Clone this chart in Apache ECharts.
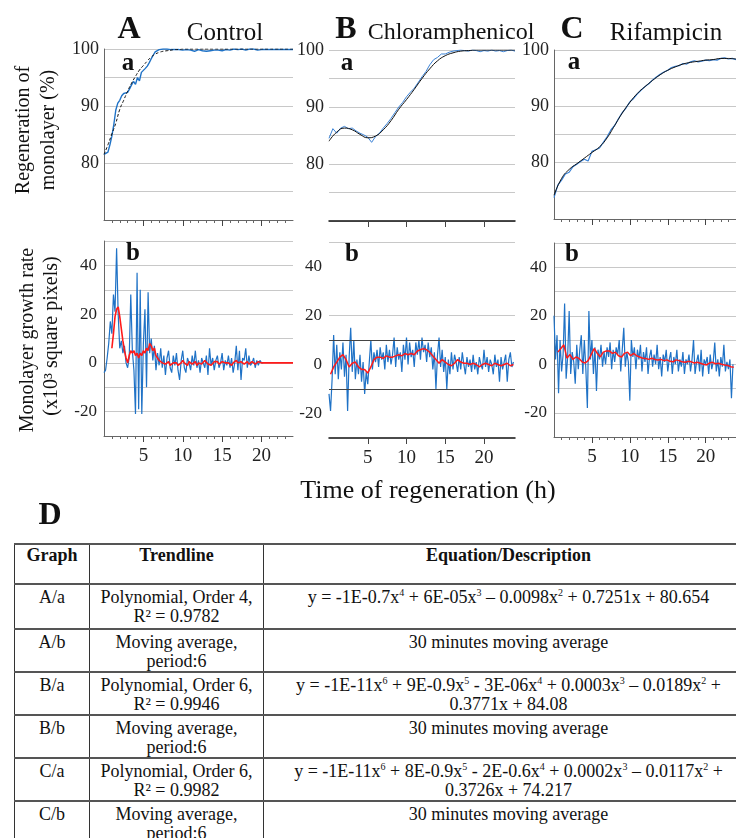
<!DOCTYPE html>
<html>
<head>
<meta charset="utf-8">
<script src="https://cdn.jsdelivr.net/npm/echarts@6/dist/echarts.min.js"></script>
<style>
  body { margin: 0; background: #fff; width: 736px; height: 838px; overflow: hidden; position: relative; font-family: 'Liberation Serif', serif; }
  #chart { position: absolute; left: 0; top: 0; width: 736px; height: 530px; }
  table { position: absolute; left: 14px; top: 543px; width: 740px; border-collapse: collapse; font-size: 18px; color: #111; table-layout: fixed; }
  th, td { border-left: 1px solid #333; border-right: 1px solid #333; border-top: 2px solid #555; border-bottom: 2px solid #555; text-align: center; vertical-align: top; padding: 3px 4px 0; line-height: 19px; }
  th { padding-top: 1px; font-weight: bold; }
  sup { font-size: 10px; line-height: 0; }
</style>
</head>
<body>
<div id="chart"></div>
<table>
  <colgroup><col style="width:75px"><col style="width:174px"><col></colgroup>
  <tr style="height:40px"><th>Graph</th><th>Trendline</th><th>Equation/Description</th></tr>
  <tr style="height:45px"><td>A/a</td><td>Polynomial, Order 4,<br>R² = 0.9782</td><td>y = -1E-0.7x<sup>4</sup> + 6E-05x<sup>3</sup> – 0.0098x<sup>2</sup> + 0.7251x + 80.654</td></tr>
  <tr style="height:42px"><td>A/b</td><td>Moving average,<br>period:6</td><td>30 minutes moving average</td></tr>
  <tr style="height:42px"><td>B/a</td><td>Polynomial, Order 6,<br>R² = 0.9946</td><td>y = -1E-11x<sup>6</sup> + 9E-0.9x<sup>5</sup> - 3E-06x<sup>4</sup> + 0.0003x<sup>3</sup> – 0.0189x<sup>2</sup> +<br>0.3771x + 84.08</td></tr>
  <tr style="height:40px"><td>B/b</td><td>Moving average,<br>period:6</td><td>30 minutes moving average</td></tr>
  <tr style="height:43px"><td>C/a</td><td>Polynomial, Order 6,<br>R² = 0.9982</td><td>y = -1E-11x<sup>6</sup> + 8E-0.9x<sup>5</sup> - 2E-0.6x<sup>4</sup> + 0.0002x<sup>3</sup> – 0.0117x<sup>2</sup> +<br>0.3726x + 74.217</td></tr>
  <tr style="height:45px"><td>C/b</td><td>Moving average,<br>period:6</td><td>30 minutes moving average</td></tr>
</table>
<script>
// regeneration of monolayer (%), sampled every 0.25 h (A) / 0.5 h (B, C)
var aRegen = [81.5,81.7,81.9,83.2,84.7,86.8,89.3,90.5,91.0,91.8,
  92.2,92.3,92.4,93.0,93.7,94.3,93.8,95.0,94.4,95.9,
  96.2,96.6,97.0,97.6,98.3,98.9,99.5,99.8,99.9,100.0,
  100.0,99.9,100.0,99.8,99.9,100.0,99.9,99.7,99.9,100.0,
  99.8,99.9,99.9,99.7,99.8,99.9,99.6,99.8,99.9,99.8,
  99.7,99.9,99.6,99.8,99.7,99.9,99.8,99.6,99.8,99.9,
  99.7,99.8,99.9,99.7,99.8,99.9,100.0,99.8,99.9,99.9,
  100.0,99.9,99.8,99.9,100.0,99.9,100.0,99.9,99.8,100.0,
  99.9,100.0,99.9,100.0,99.9,99.8,99.9,100.0,99.9,100.0,
  99.9,100.0,99.9,100.0,99.9,100.0,99.9];
var aTrend = [81.5,83.2,85.1,87.0,89.4,91.0,92.6,94.0,95.2,96.3,
  97.1,97.9,98.6,99.1,99.4,99.6,99.7,99.8,99.9,99.9,
  100,100,100,100,100,100,100,100,100,100,
  100,100,100,100,100,100,100,100,100,100,
  100,100,100,100,100,100,100,100,100];
var bRegen = [84.5,86.2,85.4,86.3,86.6,86.2,86.3,85.8,85.4,85.1,
  84.7,83.8,84.8,85.4,86.3,87.1,88.0,89.0,90.0,90.8,
  91.8,92.6,93.3,94.3,95.3,96.2,97.4,98.3,98.7,99.3,
  99.3,99.6,99.8,99.9,100.0,99.9,99.8,100.0,99.9,99.7,
  99.9,99.8,100.0,99.8,99.9,99.7,99.9,100.0,99.8];
var bTrend = [84.0,85.6,86.3,86.0,85.2,84.6,84.9,86.0,87.6,89.6,91.3,93.1,95.0,96.7,98.1,99.0,99.5,99.8,99.9,100,100,100,100,100,100];
var cRegen = [73.8,76.0,76.9,78.0,78.3,79.3,79.7,80.2,80.6,80.3,
  82.0,82.3,82.6,83.6,84.6,85.8,86.6,87.8,88.9,89.7,
  90.8,91.4,92.2,92.9,93.5,94.0,94.7,95.2,95.7,96.1,
  96.4,96.9,97.1,97.2,97.6,97.5,97.9,98.1,97.9,98.0,
  98.2,98.1,98.3,98.2,98.5,98.6,98.4,98.5,98.3];
var cTrend = [74.2,77.2,78.8,79.8,80.8,81.8,82.8,84.4,86.6,88.8,90.7,92.3,93.5,94.6,95.6,96.4,97.0,97.5,97.8,98.0,98.2,98.3,98.5,98.5,98.4];

// growth rate (x10^3 square pixels), every 0.2 h
var aRate = [-4,-3,2,8,17,12,28,21,47,20,
  6,9,4,7,0,-2,2,28,5,-3,
  -21,37,-19,30,-21,8,22,-10,29,4,
  10,1,7,-3,4,-1,6,-2,3,-5,
  2,5,-2,-4,3,-1,4,-3,-7,1,
  5,-2,-4,2,0,-3,3,-1,5,-2,
  1,-4,2,0,-2,3,-5,6,-1,2,
  -3,1,3,-2,0,4,-3,1,-1,3,
  -2,2,-4,0,7,-3,5,-7,2,1,
  6,-2,3,-1,0,2,-2,1,-1,1,
  0,0];
// moving average, from 1.0 h every 0.2 h, then flat to 24 h
var aAvg = [6,12,19,22,23,19,14,9,5,2,
  0,3,5,4,5,3,4,2,4,3,
  5,4,6,5,8,7,5,6,3,2,
  1,1,0,0.5,-0.5,0,0.5,-1,-1,0,
  -0.5,0,-1,-1.5,0,1,0,-0.5,-1,0.5,
  0,-0.5,0,0.5,-1,0,0.5,-0.5,0,1,
  0.5,-0.5,0,-1,-0.5,0.5,0,0.5,-0.5,0,
  0.5,1,0,-0.5,0,0.5,-1,0,0.5,1,
  0,-0.5,0.5,0,-0.5,0,0.5,-0.5,0,0.5,
  0,-0.5,0,0.5,0,0,0];
var aAvgEnd = [24, 0];
var bRate = [-12,-19,-6,12,-4,8,-6,5,-2,9,
  -5,4,-19,3,15,-3,10,-6,2,-4,
  4,-7,1,-12,-3,-8,1,10,-2,5,
  1,6,-1,7,2,5,-2,8,1,6,
  0,4,11,-1,7,2,5,-3,8,2,
  11,0,9,3,6,-1,9,4,10,2,
  11,5,8,1,9,3,7,-2,5,-10,
  4,11,-1,6,-3,3,-10,2,-4,5,
  -2,4,1,-3,3,-2,5,0,-4,3,
  -1,2,-3,4,-2,1,-4,3,0,-2,
  6,-1,3,-3,2,0,-4,4,-1,2,
  -7,3,-2,1,4,-7,2,5,-1,1];
// from 0.2 h every 0.4 h
var bAvg = [-4,-1,1,3,4,2,-1,0.5,1,-1,
  -2,-2,-3.5,-1,2,3,3,2.5,3.5,3,
  3,3.5,4,3.5,4.5,4,4.5,4,5.5,6,
  6.5,6,5,3.5,2,0.5,2,1,0,-0.5,
  0.5,2,1,0.5,0.5,0,0.5,0,-1,0,
  0.5,0,-0.5,0.5,0,-0.5,0,0.5,-0.5,0];
var cRate = [20,2,12,-12,10,-3,4,25,-6,3,
  22,-4,5,1,-8,8,-2,6,12,-4,
  10,-2,-18,22,2,10,-4,7,-11,6,
  2,8,-1,5,0,7,3,9,-2,6,
  1,7,4,10,-3,6,15,-1,5,1,
  -15,10,3,7,-2,6,2,8,-3,5,
  1,7,-4,3,6,-1,4,0,8,-2,
  3,-5,4,1,6,-3,2,5,-4,3,
  0,6,-3,2,-1,5,-4,2,0,4,
  -3,2,10,-4,1,4,-3,6,-5,2,
  0,3,-4,4,-2,1,9,-3,2,-5,
  3,-1,8,-3,1,-2,2,-14,0];
// from 0.5 h every 0.4 h
var cAvg = [5,6.5,8,2.5,4,2,3,2.4,1,0.5,
  1.5,4,6.5,4.5,3,5,5.5,5.5,4.5,5,
  3.5,3,4.5,5,3.5,4.5,3.5,3,2.5,2.4,
  2,2.5,2,1.8,2,1.5,1.8,1.2,1,1.8,
  1.5,1,0.8,1.2,1,0.5,0.8,0.4,0,-0.3,
  0.5,0.8,0.2,0.4,0,-0.3,-0.5,-1,-1.2];

var xTicks = [5, 10, 15, 20];
var rateLabels = [-20, 0, 20, 40];
var regenLabels = [80, 90, 100];

var F = '"Liberation Serif", "Times New Roman", serif';
var BLUE = '#1f72c6', RED = '#ff1a1a';

function pts(vals, t0, dt) {
  return vals.map(function (v, i) { return [Math.round((t0 + i * dt) * 100) / 100, v]; });
}

var grids = [
  { left: 104, top: 49, width: 189, height: 171 },
  { left: 329, top: 50, width: 186, height: 171 },
  { left: 554, top: 50, width: 186, height: 169 },
  { left: 104, top: 241, width: 189, height: 195 },
  { left: 329, top: 242, width: 186, height: 196 },
  { left: 554, top: 243, width: 186, height: 194 }
];

function xAx(i) {
  var bottom = i >= 3, isB = i % 3 === 1;
  return {
    gridIndex: i, type: 'value', min: 0, max: 24, interval: 5,
    axisLine: { show: true, onZero: false, lineStyle: { color: isB ? '#111' : '#666', width: isB ? 1.5 : 1 } },
    axisTick: { show: true, length: 6, customValues: xTicks, lineStyle: { color: '#444' } },
    minorTick: { show: !isB, splitNumber: 5, length: 3, lineStyle: { color: '#666' } },
    axisLabel: { show: bottom, customValues: xTicks, fontSize: 19, color: '#222', fontFamily: F, margin: 11 },
    splitLine: { show: false }
  };
}

function yAx(i) {
  var bottom = i >= 3, isB = i % 3 === 1;
  var labels = bottom ? rateLabels : regenLabels;
  return {
    gridIndex: i, type: 'value',
    min: bottom ? -30 : 70, max: bottom ? 50 : 100, interval: bottom ? 10 : 5,
    axisLine: { show: !isB, onZero: false, lineStyle: { color: '#666' } },
    axisTick: { show: false },
    axisLabel: {
      fontSize: bottom ? 17 : 18, color: '#222', fontFamily: F, margin: bottom ? 7 : 5,
      formatter: function (v) { return labels.indexOf(v) >= 0 ? String(v) : ''; }
    },
    splitLine: { show: !(bottom && isB), lineStyle: { color: '#c8c8c8' } }
  };
}

function line(i, data, color, width, type, smooth) {
  return {
    type: 'line', xAxisIndex: i, yAxisIndex: i, data: data,
    showSymbol: false, symbol: 'none', smooth: !!smooth, silent: true,
    lineStyle: { color: color, width: width, type: type || 'solid' }
  };
}

var bRateSeries = line(4, pts(bRate, 0, 0.2), BLUE, 1.2);
bRateSeries.markLine = {
  silent: true, symbol: 'none', label: { show: false },
  data: [
    { yAxis: 50, lineStyle: { color: '#c8c8c8', width: 1, type: 'solid' } },
    { yAxis: 20, lineStyle: { color: '#c8c8c8', width: 1, type: 'solid' } },
    { yAxis: 10, lineStyle: { color: '#444', width: 1, type: 'solid' } },
    { yAxis: -10, lineStyle: { color: '#444', width: 1, type: 'solid' } }
  ]
};

var series = [
  line(0, pts(aRegen, 0, 0.25), BLUE, 1.4),
  line(0, pts(aTrend, 0, 0.5), '#111', 1, [3, 2], true),
  line(1, pts(bRegen, 0, 0.5), '#3a82d6', 1),
  line(1, pts(bTrend, 0, 1), '#111', 1, 'solid', true),
  line(2, pts(cRegen, 0, 0.5), '#3a82d6', 1.2),
  line(2, pts(cTrend, 0, 1), '#111', 1, 'solid', true),
  line(3, pts(aRate, 0, 0.2), BLUE, 1.2),
  line(3, pts(aAvg, 1, 0.2).concat([aAvgEnd]), RED, 1.6),
  bRateSeries,
  line(4, pts(bAvg, 0.2, 0.4), RED, 1.5),
  line(5, pts(cRate, 0, 0.2), BLUE, 1.2),
  line(5, pts(cAvg, 0.5, 0.4), RED, 1.5)
];

function txt(text, x, y, size, bold, rot) {
  return {
    type: 'text', x: x, y: y, rotation: rot || 0, silent: true, z: 100,
    style: { text: text, fill: '#111', align: 'center', verticalAlign: 'middle',
      font: (bold ? 'bold ' : '') + size + 'px "Liberation Serif"' }
  };
}

var graphics = [
  txt('A', 129, 30, 32, true), txt('Control', 225, 33, 25),
  txt('B', 346, 30, 32, true), txt('Chloramphenicol', 451, 33, 24),
  txt('C', 572, 30, 32, true), txt('Rifampicin', 666, 33, 25),
  txt('a', 128, 64, 25, true), txt('a', 347, 64, 25, true), txt('a', 574, 63, 25, true),
  txt('b', 133, 254, 25, true), txt('b', 352, 255, 25, true), txt('b', 572, 255, 25, true),
  txt('Regeneration of', 24, 130, 20, false, Math.PI / 2),
  txt('monolayer (%)', 49, 130, 20, false, Math.PI / 2),
  txt('Monolayer growth rate', 28, 340, 20, false, Math.PI / 2),
  txt('(x10³ square pixels)', 52, 336, 20, false, Math.PI / 2),
  txt('Time of regeneration (h)', 428, 491, 26),
  txt('D', 50, 516, 32, true)
];

var chart = echarts.init(document.getElementById('chart'));
chart.setOption({
  animation: false,
  textStyle: { fontFamily: F },
  grid: grids,
  xAxis: grids.map(function (g, i) { return xAx(i); }),
  yAxis: grids.map(function (g, i) { return yAx(i); }),
  series: series,
  graphic: graphics
});
</script>
</body>
</html>
